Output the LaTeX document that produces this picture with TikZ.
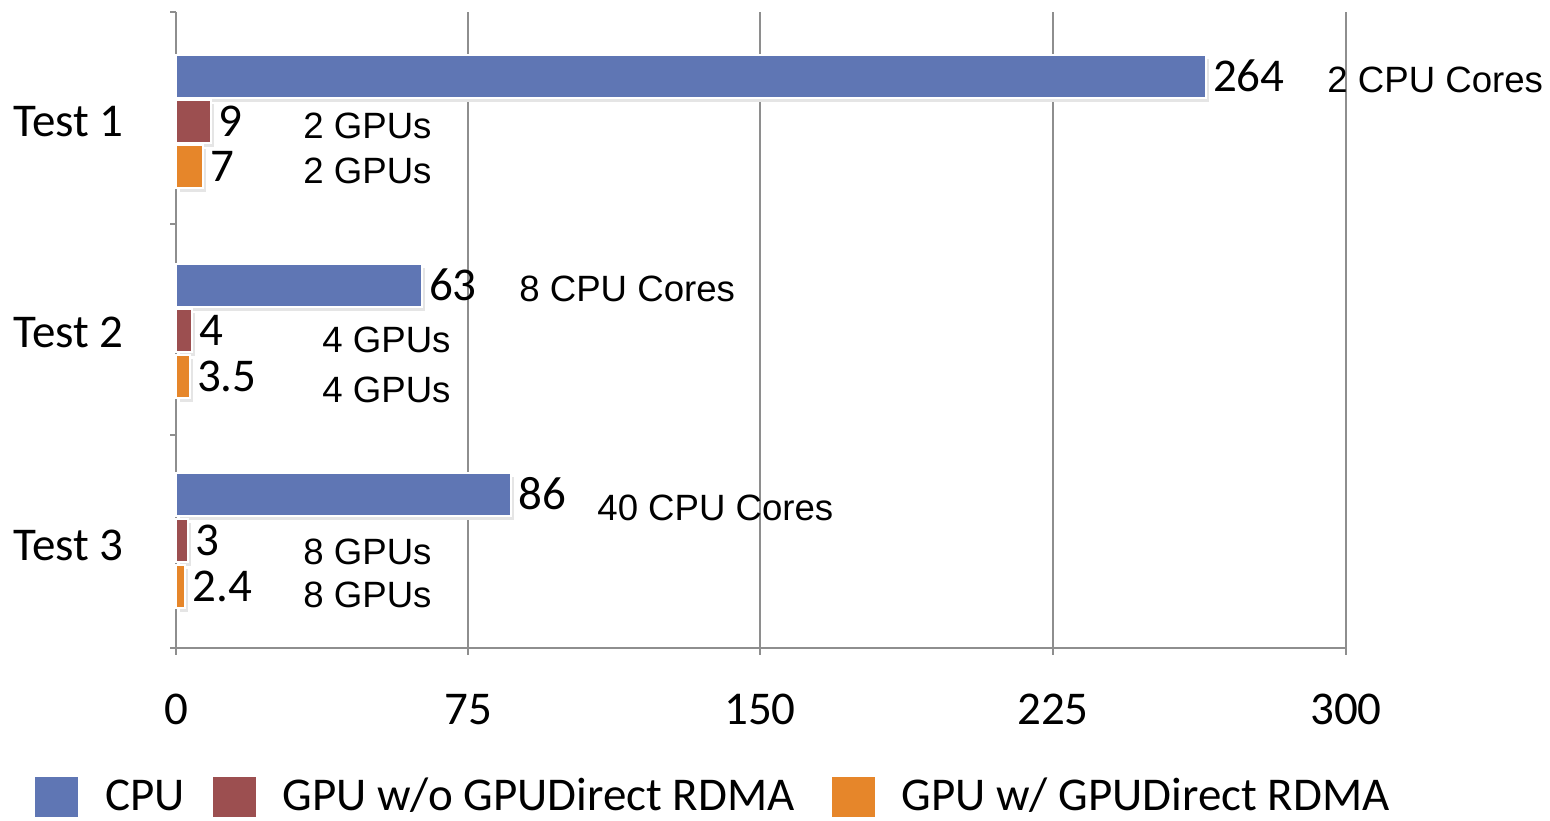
\documentclass[tikz,border=0pt]{standalone}
\usepackage{fontspec}
\setmainfont{Carlito}
\newfontfamily\arialfont{Liberation Sans}
\usepackage{xcolor}
\usetikzlibrary{positioning}
\definecolor{cblue}{HTML}{5F76B4}
\definecolor{cred}{HTML}{9C4F50}
\definecolor{corange}{HTML}{E6862A}
\definecolor{cgrey}{HTML}{8E8E8E}

\tikzset{
  gridline/.style={cgrey,line width=1pt},
  val/.style={font=\fontsize{23.5}{26}\selectfont},
  note/.style={font=\arialfont\fontsize{18.3}{20}\selectfont},
  legbox/.style={minimum width=21.5pt,minimum height=20pt,anchor=north west}
}

% one horizontal bar: colour, top edge, value, node name
\newcommand{\drawbar}[4]{%
  \fill[black!10] (180,#2+4) rectangle ({176+3.9*#3+3},#2+47);
  \fill[#1,draw=white,line width=1pt] (176,#2) rectangle ({176+3.9*#3},#2+43);
  \node[val] (#4) at ({176+3.9*#3+7},#2+36.5) {#3};}

\begin{document}
\begin{tikzpicture}[x=0.5pt,y=-0.5pt,every node/.style={inner sep=0pt,anchor=base west}]
  \useasboundingbox (0,0) rectangle (1550,820);
  % grid and axes
  \foreach \gx in {468,760,1053,1346}
    \draw[gridline] (\gx,12) -- (\gx,655);
  \draw[gridline] (176,12) -- (176,655);
  \draw[gridline] (170,648) -- (1346,648);
  \foreach \gy in {12,224,435}
    \draw[gridline] (170,\gy) -- (176,\gy);
  \foreach \v/\gx in {0/176,75/468,150/760,225/1053,300/1346}
    \node[val,anchor=base] (x\v) at (\gx,724) {\v};

  % Test 1
  \node[val] (t1) at (13,136) {Test 1};
  \drawbar{cblue}{55}{264}{v1c}
  \drawbar{cred}{100}{9}{v1g}
  \drawbar{corange}{145}{7}{v1o}
  \node[note] (n1c) at (1327,92) {2 CPU Cores};
  \node[note] (n1g) at (303,138) {2 GPUs};
  \node[note] (n1o) at (303,183) {2 GPUs};

  % Test 2
  \node[val] (t2) at (13,347) {Test 2};
  \drawbar{cblue}{264}{63}{v2c}
  \drawbar{cred}{309}{4}{v2g}
  \drawbar{corange}{355}{3.5}{v2o}
  \node[note] (n2c) at (519,301) {8 CPU Cores};
  \node[note] (n2g) at (322,352) {4 GPUs};
  \node[note] (n2o) at (322,402) {4 GPUs};

  % Test 3
  \node[val] (t3) at (13,560) {Test 3};
  \drawbar{cblue}{473}{86}{v3c}
  \drawbar{cred}{519}{3}{v3g}
  \drawbar{corange}{565}{2.4}{v3o}
  \node[note] (n3c) at (597,520) {40 CPU Cores};
  \node[note] (n3g) at (303,564) {8 GPUs};
  \node[note] (n3o) at (303,607) {8 GPUs};

  % legend
  \node[legbox,fill=cblue] (kc) at (35,777) {};
  \node[val] (lc) at (105,810) {CPU};
  \node[legbox,fill=cred] (kg) at (213,777) {};
  \node[val] (lg) at (282,810) {GPU w/o GPUDirect RDMA};
  \node[legbox,fill=corange] (ko) at (832,777) {};
  \node[val] (lo) at (901,810) {GPU w/ GPUDirect RDMA};
\end{tikzpicture}
\end{document}
